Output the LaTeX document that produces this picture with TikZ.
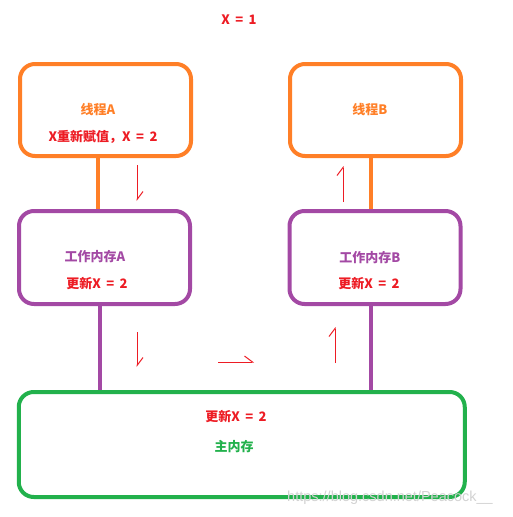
\documentclass[tikz,border=0pt]{standalone}
\usepackage{fontspec}
\setmainfont{Noto Sans CJK SC}
\newfontfamily\wmfont{Liberation Sans}
\usetikzlibrary{positioning, arrows.meta, calc}
\definecolor{pntorange}{RGB}{255,127,39}
\definecolor{pntpurple}{RGB}{163,73,164}
\definecolor{pntgreen}{RGB}{34,177,76}
\definecolor{pntred}{RGB}{237,28,36}
\newcommand\widespace{\spaceskip=0.42em\relax}
\tikzset{
    threadbox/.style={rectangle, rounded corners=15pt, draw=pntorange, line width=4pt, minimum width=171pt, minimum height=92pt},
    workbox/.style={rectangle, rounded corners=15pt, draw=pntpurple, line width=4pt, minimum width=171pt, minimum height=93pt},
    mainbox/.style={rectangle, rounded corners=15pt, draw=pntgreen, line width=4pt, minimum width=446pt, minimum height=105pt},
    lbl/.style={font={\fontsize{13}{15}\selectfont\bfseries\widespace}, inner sep=1pt, text=#1},
    link/.style={line width=4pt, color=#1},
    flowarr/.style={-{Straight Barb[left, length=8pt, width=12pt, line width=1pt]}, line width=1pt, color=pntred}
}
\begin{document}
\begin{tikzpicture}[x=1pt, y=-1pt]
    \useasboundingbox (0,0) rectangle (512,517);
    % === Shared value ===
    \node[lbl=pntred] (x1) at (239,20) {X = 1};

    % === Threads ===
    \node[threadbox] (thA) at (105.5,110) {};
    \node[lbl=pntorange] (thAname) at (98,110) {线程A};
    \node[lbl=pntred] (thAset) at (103,137) {X重新赋值，X = 2};
    \node[threadbox] (thB) at (375.5,110) {};
    \node[lbl=pntorange] (thBname) at (370,110) {线程B};

    % === Working memory ===
    \node[workbox] (wmA) at (104.5,257.5) {};
    \node[lbl=pntpurple] (wmAname) at (95,257) {工作内存A};
    \node[lbl=pntred] (wmAupd) at (97,284) {更新X = 2};
    \node[workbox] (wmB) at (375,257.5) {};
    \node[lbl=pntpurple] (wmBname) at (370,258) {工作内存B};
    \node[lbl=pntred] (wmBupd) at (369,284) {更新X = 2};

    % === Main memory ===
    \node[mainbox] (mm) at (241.75,444.5) {};
    \node[lbl=pntred] (mmupd) at (236,417) {更新X = 2};
    \node[lbl=pntgreen] (mmname) at (234,447) {主内存};

    % === Links ===
    \draw[link=pntorange] ($(thA.south)+(-7.5,0)$) -- ($(wmA.north)+(-6.5,0)$);
    \draw[link=pntorange] ($(thB.south)+(-4.5,0)$) -- ($(wmB.north)+(-4,0)$);
    \draw[link=pntpurple] ($(wmA.south)+(-4.5,0)$) -- ($(mm.north -| wmA.south)+(-4.5,0)$);
    \draw[link=pntpurple] ($(wmB.south)+(-4,0)$) -- ($(mm.north -| wmB.south)+(-4,0)$);

    % === Flow of the new value ===
    \coordinate (f1s) at (137,165);  \coordinate (f1e) at (137,201);
    \coordinate (f2s) at (137,332);  \coordinate (f2e) at (137,367);
    \coordinate (f3s) at (218,362);  \coordinate (f3e) at (254,362);
    \coordinate (f4s) at (335,363);  \coordinate (f4e) at (335,327);
    \coordinate (f5s) at (343,202);  \coordinate (f5e) at (343,166);
    \draw[flowarr] (f1s) -- (f1e);
    \draw[flowarr] (f2s) -- (f2e);
    \draw[flowarr] (f3s) -- (f3e);
    \draw[flowarr] (f4s) -- (f4e);
    \draw[flowarr] (f5s) -- (f5e);

    % watermark
    \node[font=\wmfont\fontsize{14.5}{16}\selectfont, text=gray!35, inner sep=0pt] (wm) at (390,498) {https://blog.csdn.net/Peacock\_\_};
\end{tikzpicture}
\end{document}
